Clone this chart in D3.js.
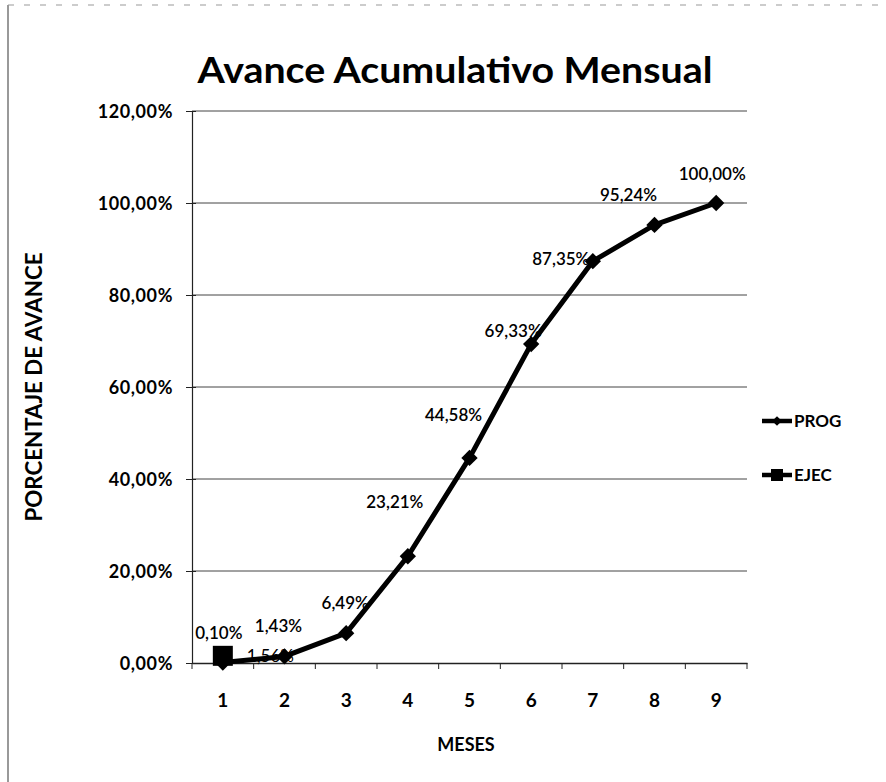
<!DOCTYPE html>
<html><head><meta charset="utf-8">
<script src="https://cdn.jsdelivr.net/npm/d3@7"></script>
<style>body{margin:0;background:#fff}svg text{font-family:Lato,"Open Sans",sans-serif;fill:#000}</style>
</head><body><svg id="c" width="886" height="782"></svg>
<script>
const months = [1,2,3,4,5,6,7,8,9];
const prog = [0.10, 1.43, 6.49, 23.21, 44.58, 69.33, 87.35, 95.24, 100.00];
const ejecMonths = [1];
const ejec = [1.56];
const ejecLabels = ["1,56%"];
const yTicks = [0,20,40,60,80,100,120];
const seriesNames = ["PROG","EJEC"];

const svg = d3.select("#c");
const m = {l:192, r:747, t:111, b:663};
const x = d3.scaleBand().domain(months).range([m.l, m.r]);
const y = d3.scaleLinear().domain([0,120]).range([m.b, m.t]);
const fmt = v => d3.format(".2f")(v).replace(".", ",") + "%";

// frame
svg.append("line").attr("x1",8).attr("x2",8).attr("y1",5).attr("y2",782).attr("stroke","#555").attr("stroke-width",1.2);
svg.append("line").attr("x1",8).attr("x2",886).attr("y1",5).attr("y2",5).attr("stroke","#999").attr("stroke-width",1).attr("stroke-dasharray","6,10");

// title
svg.append("text").attr("x",455).attr("y",83).attr("text-anchor","middle")
  .attr("font-size",36).attr("font-weight",700).attr("textLength",515).attr("lengthAdjust","spacingAndGlyphs")
  .text("Avance Acumulativo Mensual");

// gridlines
svg.append("g").selectAll("line").data(yTicks.filter(d=>d>0)).join("line")
  .attr("x1",m.l).attr("x2",m.r).attr("y1",d=>y(d)).attr("y2",d=>y(d))
  .attr("stroke","#444").attr("stroke-width",1);

// axes
const ya = svg.append("g").attr("transform",`translate(${m.l},0)`)
  .call(d3.axisLeft(y).tickValues(yTicks).tickSize(6).tickFormat(fmt));
ya.select(".domain").attr("stroke","#222").attr("stroke-width",1.2);
ya.selectAll(".tick line").attr("x2",-6).attr("x1",4).attr("stroke","#222");
ya.selectAll("text").attr("font-size",18).attr("font-weight",700).attr("letter-spacing",0.6).attr("x",-19).attr("dy","0.35em");

const xa = svg.append("g").attr("transform",`translate(0,${m.b})`)
  .call(d3.axisBottom(x).tickSize(0).tickPadding(31));
xa.select(".domain").attr("stroke","#222").attr("stroke-width",1.5);
xa.selectAll("text").attr("font-size",19).attr("font-weight",700);
// ticks between categories
svg.append("g").selectAll("line").data(d3.range(months.length+1)).join("line")
  .attr("x1",i=>m.l+i*x.step()).attr("x2",i=>m.l+i*x.step())
  .attr("y1",m.b).attr("y2",m.b+6).attr("stroke","#222");

// axis titles
svg.append("text").attr("transform",`translate(34,${(m.t+m.b)/2}) rotate(-90)`)
  .attr("text-anchor","middle").attr("dy","0.35em").attr("font-size",22).attr("font-weight",700)
  .attr("textLength",269).attr("lengthAdjust","spacingAndGlyphs").text("PORCENTAJE DE AVANCE");
svg.append("text").attr("x",466).attr("y",751).attr("text-anchor","middle")
  .attr("font-size",18).attr("font-weight",700).text("MESES");

const cx = d => x(d) + x.bandwidth()/2;

// EJEC label (under lines)
svg.append("g").selectAll("text").data(ejec).join("text")
  .attr("x",(d,i)=>cx(ejecMonths[i])+24).attr("y",d=>y(d)+6)
  .attr("font-size",17).text((d,i)=>ejecLabels[i]);

// PROG line
const line = d3.line().x((d,i)=>cx(months[i])).y(d=>y(d));
svg.append("path").datum(prog).attr("d",line).attr("fill","none")
  .attr("stroke","#000").attr("stroke-width",5).attr("stroke-linejoin","round");
svg.append("g").selectAll("path").data(prog).join("path")
  .attr("transform",(d,i)=>`translate(${cx(months[i])},${y(d)})`)
  .attr("d",d3.symbol(d3.symbolDiamond2,170)()).attr("fill","#000");

// EJEC marker
svg.append("g").selectAll("rect").data(ejec).join("rect")
  .attr("x",(d,i)=>cx(ejecMonths[i])-10).attr("y",d=>y(d)-10)
  .attr("width",20).attr("height",20).attr("fill","#000");

// PROG labels (nudges relative to point)
const nudges = [[-4,-24],[-6,-24],[-1,-24],[-13,-48],[-16,-37],[-18,-7],[-32,4],[-26,-24],[-4,-23]];
svg.append("g").selectAll("text").data(prog).join("text")
  .attr("x",(d,i)=>cx(months[i])+nudges[i][0]).attr("y",(d,i)=>y(d)+nudges[i][1])
  .attr("text-anchor","middle").attr("font-size",17).attr("font-weight",600).text(d=>fmt(d));

// legend
const lg = svg.append("g").attr("transform","translate(762,421)");
seriesNames.forEach((s,i)=>{
  const g = lg.append("g").attr("transform",`translate(0,${i*54})`);
  g.append("line").attr("x1",0).attr("x2",30).attr("stroke","#000").attr("stroke-width",4.5);
  if(i===0) g.append("path").attr("transform","translate(15,0)").attr("d",d3.symbol(d3.symbolDiamond2,60)()).attr("fill","#000");
  else g.append("rect").attr("x",9).attr("y",-6).attr("width",12).attr("height",12).attr("fill","#000");
  g.append("text").attr("x",32).attr("y",0).attr("dy","0.35em").attr("font-size",17).attr("font-weight",700).text(s);
});
</script></body></html>
